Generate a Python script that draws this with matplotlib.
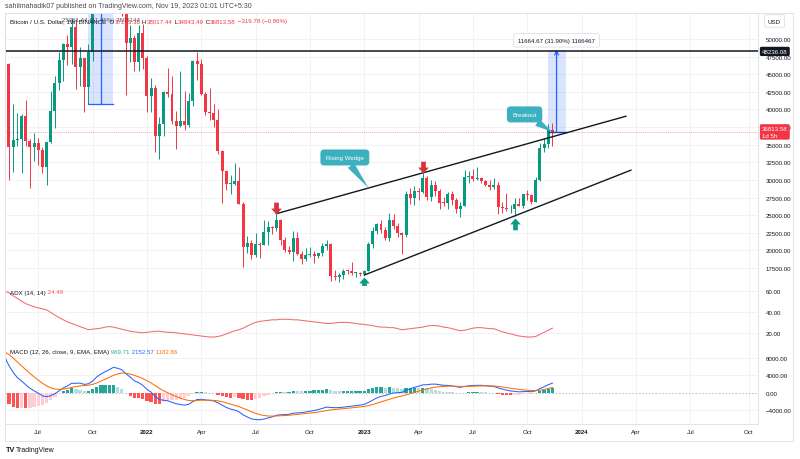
import numpy as np
import pandas as pd
import matplotlib
matplotlib.use("Agg")
import matplotlib.pyplot as plt
import matplotlib.dates as mdates
import matplotlib.transforms as mtransforms
from matplotlib.path import Path
from matplotlib.patches import Rectangle

plt.rcParams['font.family'] = ['Liberation Sans', 'DejaVu Sans']

# ---------------- data (weekly BTC/USDT, Binance) ----------------
first_week = "2021-05-10"

opens = [58230, 46430, 34700, 35678, 35796, 39097, 35514, 34700, 35288, 34240,
         31779, 35399, 39845, 43800, 47081, 49255, 48800, 51770, 46060, 47260,
         43170, 48200, 54660, 61530, 60850, 61300, 63270, 65500, 58620, 57270,
         49400, 50100, 46700, 50800, 47300, 41860, 43080, 36275, 37920, 42410,
         42200, 38400, 37700, 38420, 37780, 41260, 46830, 46400, 42150, 39700,
         39450, 38470, 34060, 31300, 29430, 29450, 29900, 26570, 20550, 21030,
         19300, 20850, 20790, 22580, 23300, 23170, 24300, 21520, 20050, 19830,
         21830, 19420, 18800, 19310, 19420, 19260, 19570, 20630, 20900, 16330,
         16280, 16460, 17100, 17090, 16780, 16840, 16610, 17120, 20880, 22700,
         23740, 22930, 21780, 24280, 23490, 22430, 22130, 28000, 27480, 28450,
         28330, 30300, 27600, 29230, 28430, 26780, 26750, 28070, 27100, 25900,
         26340, 30470, 30590, 30170, 30230, 29900, 29300, 29030, 29300, 26100,
         26000, 25830, 25830, 26530, 26260, 27980, 27930, 26850, 29980, 34520,
         35040, 37133.36]

highs = [59600, 46643, 40841, 39476, 39380, 41330, 35750, 36600, 35967, 34700,
         35398, 42599, 44700, 48144, 49500, 50500, 52920, 52780, 48843, 47350,
         49228, 56561, 62933, 67000, 63710, 64270, 69000, 66340, 59500, 59113,
         51936, 50500, 51950, 52088, 47570, 44500, 43505, 38920, 42656, 45821,
         44751, 39844, 45400, 42594, 42325, 47000, 48189, 47200, 42414, 42976,
         40795, 40023, 34240, 31328, 30670, 32400, 31765, 26880, 22000, 21540,
         22500, 21200, 24280, 24200, 23500, 25211, 24450, 21900, 20580, 22800,
         22680, 19956, 20385, 20475, 19950, 19700, 21085, 21480, 21100, 17190,
         16812, 17400, 17425, 18387, 16960, 16950, 17176, 21258, 23370, 23820,
         24250, 23360, 25250, 25135, 23880, 22600, 28390, 28870, 29190, 28800,
         31000, 30490, 30036, 29820, 28670, 27640, 28260, 28450, 27400, 26800,
         31430, 31280, 31500, 31800, 30440, 29990, 30050, 30250, 29690, 26840,
         28150, 26410, 27490, 27480, 28050, 28600, 27950, 30400, 35280, 35980,
         37980, 38017.44]

lows = [43825, 30000, 31111, 34833, 31000, 34803, 28805, 32700, 32077, 31020,
        29278, 35205, 37332, 42800, 43998, 46370, 46512, 42843, 43370, 39600,
        40750, 46900, 54000, 59510, 57820, 59405, 62333, 55600, 53256, 42000,
        46750, 45456, 45500, 45678, 39650, 39600, 34008, 32917, 36250, 41800,
        38000, 34322, 37450, 37155, 37578, 40467, 44200, 42107, 39200, 38536,
        37578, 33713, 26700, 28630, 28019, 29300, 26560, 17622, 19600, 18780,
        19000, 18910, 20750, 20700, 22380, 22700, 20760, 19800, 19520, 18540,
        19320, 18125, 18470, 19080, 18190, 18900, 19240, 20050, 15588, 15815,
        15480, 16000, 16680, 16527, 16256, 16333, 16500, 17085, 20400, 22300,
        22500, 21450, 21350, 23100, 21970, 19550, 21880, 26600, 26500, 27200,
        28170, 27140, 26940, 27680, 25811, 26350, 25870, 26500, 25350, 24800,
        26260, 29500, 29850, 29950, 29500, 29100, 28580, 28700, 25170, 25360,
        25660, 25330, 24900, 26300, 26000, 27200, 26540, 26830, 29880, 33920,
        34530, 34843.49]

closes = [46430, 34700, 35678, 35796, 39097, 35514, 34700, 35288, 34240, 31779,
          35399, 39845, 43800, 47081, 49255, 48800, 51770, 46060, 47260, 43170,
          48200, 54660, 61530, 60850, 61300, 63270, 65500, 58620, 57270, 49400,
          50100, 46700, 50800, 47300, 41860, 43080, 36275, 37920, 42410, 42200,
          38400, 37700, 38420, 37780, 41260, 46830, 46400, 42150, 39700, 39450,
          38470, 34060, 31300, 29430, 29450, 29900, 26570, 20550, 21030, 19300,
          20850, 20790, 22580, 23300, 23170, 24300, 21520, 20050, 19830, 21830,
          19420, 18800, 19310, 19420, 19260, 19570, 20630, 20900, 16330, 16280,
          16460, 17100, 17090, 16780, 16840, 16610, 17120, 20880, 22700, 23740,
          22930, 21780, 24280, 23490, 22430, 22130, 28000, 27480, 28450, 28330,
          30300, 27600, 29230, 28430, 26780, 26750, 28070, 27100, 25900, 26340,
          30470, 30590, 30170, 30230, 29900, 29300, 29030, 29300, 26100, 26000,
          25830, 25830, 26530, 26260, 27980, 27930, 26850, 29980, 34520, 35040,
          37133.36, 36813.58]

# weekly closes Jan 2020 - May 2021, only used to warm up the MACD EMAs
warmup_closes = [8100, 8700, 8600, 9350, 10150, 9900, 9700, 8530, 8030, 5360,
                 5830, 5880, 6780, 6900, 7130, 7700, 8900, 8750, 9680, 8720,
                 9450, 9680, 9330, 9290, 9000, 9070, 9240, 9160, 9920, 11800,
                 11680, 11900, 11650, 11700, 10250, 10680, 10930, 10770, 10670, 11370,
                 11510, 13030, 13780, 15480, 16030, 18680, 18180, 19140, 19270, 23800,
                 26440, 33000, 38150, 35830, 32260, 34260, 39250, 48580, 57410, 45140,
                 51200, 59020, 57350, 55820, 57060, 60000, 56150, 49070, 57800, 58230]

adx_values = [60, 58.5, 55.5, 53, 50.5, 48, 46.5, 45, 44, 43,
              42, 39.5, 37, 34.5, 32.5, 30.5, 29, 27.5, 26, 24.5,
              23, 23.5, 24, 24.5, 25.5, 26, 25.5, 24.5, 23.5, 22.5,
              21.5, 21, 20.5, 20, 20.5, 21, 21.5, 21.5, 21, 20.5,
              20.5, 20, 19.5, 19, 18.5, 18, 17.5, 17, 16.5, 16,
              16, 16.5, 17.5, 19, 20.5, 22, 23, 24.5, 26.5, 28.5,
              30, 31, 31.5, 32, 32.5, 32.5, 33, 33, 33, 32.5,
              32.5, 32, 31.5, 31, 30.5, 30, 29.5, 29, 29, 29.5,
              30, 30, 30, 29.5, 29, 28.5, 28, 27.5, 27, 26,
              25.5, 25.5, 25, 25, 24, 23, 23.5, 24, 24.5, 25,
              25.5, 26.5, 27, 27, 26.5, 25.5, 25, 24, 23, 22,
              22.5, 23.5, 24.5, 25, 25, 24.5, 24, 24, 22.5, 21,
              20, 19, 18, 17, 16.5, 16, 16, 16.5, 18.5, 20.5,
              22.5, 24.49]

x_tick_labels = ["Jul", "Oct", "2022", "Apr", "Jul", "Oct", "2023",
                 "Apr", "Jul", "Oct", "2024", "Apr", "Jul", "Oct"]
price_ticks = [17500, 20000, 22500, 25000, 27500, 30000, 32500, 35000,
               37500, 40000, 42500, 45000, 47500, 50000]
adx_ticks = [20, 40, 60]
macd_ticks = [-4000, 0, 4000, 8000]

resistance_level = 48236.08
measure_left_base = 40780
measure_left_range = 25061.44
measure_right_range = 11664.67

# ---------------- derived ----------------
n = len(closes)
dates = pd.date_range(first_week, periods=n, freq="7D")
xd = mdates.date2num(dates)
o = np.array(opens, float); h = np.array(highs, float)
l = np.array(lows, float); c = np.array(closes, float)


def wk(k):
    return xd[0] + 7.0 * k


def ema(x, span):
    a = 2.0 / (span + 1)
    out = np.empty_like(x)
    out[0] = x[0]
    for i in range(1, len(x)):
        out[i] = a * x[i] + (1 - a) * out[i - 1]
    return out


allc = np.array(warmup_closes + closes, float)
macd_full = ema(allc, 12) - ema(allc, 26)
sig_full = ema(macd_full, 9)
hist_full = macd_full - sig_full
macd = macd_full[-n:]
sig = sig_full[-n:]
hist = hist_full[-n:]
hist_prev = hist_full[-n - 1:-1]
hcol = []
for hv, hp in zip(hist, hist_prev):
    if hv >= 0:
        hcol.append('#26A69A' if hv > hp else '#B2DFDB')
    else:
        hcol.append('#FFCDD2' if hv > hp else '#FF5252')

# ---------------- figure ----------------
W, H = 800, 460
fig = plt.figure(figsize=(8, 4.6), dpi=100)
fig.patch.set_facecolor('white')


def rect(x0, y0, x1, y1):
    return [x0 / W, 1 - y1 / H, (x1 - x0) / W, (y1 - y0) / H]


ax_p = fig.add_axes(rect(5, 14, 758, 287))
ax_a = fig.add_axes(rect(5, 287, 758, 342), sharex=ax_p)
ax_m = fig.add_axes(rect(5, 342, 758, 425), sharex=ax_p)

px_per_day = 4.18 / 7.0
x_left = xd[0] + (5 - 4.8) / px_per_day
x_right = xd[0] + (758 - 4.8) / px_per_day

UP, DN = '#089981', '#F23645'
GRID = '#F0F2F5'
SEP = '#E0E3EB'
TXT = '#131722'
FS = 4.4

future = pd.date_range(first_week, "2024-12-31", freq="7D")
tick_dates = [d for p, d in zip(future[:-1], future[1:])
              if d.month != p.month and d.month in (1, 4, 7, 10)]
tick_x = mdates.date2num(pd.DatetimeIndex(tick_dates))

for ax in (ax_p, ax_a, ax_m):
    ax.set_xlim(x_left, x_right)
    ax.set_facecolor('white')
    for t in tick_x:
        ax.axvline(t, color=GRID, lw=0.7, zorder=0)
    for s in ('top', 'left'):
        ax.spines[s].set_visible(False)
    for s in ('right', 'bottom'):
        ax.spines[s].set_color(SEP)
        ax.spines[s].set_linewidth(0.7)
    ax.yaxis.tick_right()
    ax.tick_params(axis='y', length=0, pad=5.5, labelsize=FS, labelcolor=TXT)
    ax.tick_params(axis='x', length=0)
ax_p.tick_params(axis='x', labelbottom=False)
ax_a.tick_params(axis='x', labelbottom=False)

# ---- price pane ----
ax_p.set_ylim(14948, 53687)
ax_p.set_yticks(price_ticks)
ax_p.set_yticklabels([f"{v:.2f}" for v in price_ticks])
for v in price_ticks:
    ax_p.axhline(v, color=GRID, lw=0.7, zorder=0)

# measurement boxes (drawn behind candles)
ax_p.add_patch(Rectangle((wk(20), measure_left_base), 7 * 6, measure_left_range,
                         fc='#2962FF', alpha=0.17, ec='none', zorder=1))
ax_p.plot([wk(20), wk(26)], [measure_left_base] * 2, color='#2962FF', lw=0.9, zorder=1.5)
ax_p.plot([wk(23), wk(23)], [measure_left_base, measure_left_base + measure_left_range],
          color='#2962FF', lw=0.9, zorder=1.5)
rb = c[-1]
ax_p.add_patch(Rectangle((wk(n - 2), rb), 7 * 4.3, measure_right_range,
                         fc='#2962FF', alpha=0.17, ec='none', zorder=1))
ax_p.plot([wk(n - 2), wk(n - 2 + 4.3)], [rb] * 2, color='#1E3FA0', lw=1.0, zorder=4)
ax_p.annotate('', xy=(wk(n), rb + measure_right_range), xytext=(wk(n), rb),
              arrowprops=dict(arrowstyle='->', color='#2962FF', lw=0.9,
                              mutation_scale=7, shrinkA=0, shrinkB=0), zorder=4)

# candles
cols = [UP if cc >= oo else DN for oo, cc in zip(o, c)]
ax_p.vlines(xd, l, h, colors=cols, lw=0.7, zorder=2.5)
body_h = np.maximum(np.abs(c - o), 110)
ax_p.bar(xd, body_h, bottom=np.minimum(o, c), width=5.0, color=cols, lw=0, zorder=3)

# horizontal lines
ax_p.axhline(resistance_level, color=TXT, lw=1.1, zorder=4)
ax_p.axhline(c[-1], color=DN, lw=0.5, ls=(0, (1.5, 1.5)), alpha=0.6, zorder=2)

# wedge trendlines
k1, k2 = 65, 100
slope_u = (h[k2] - h[k1]) / (k2 - k1)
ku_end = 148.6
ax_p.plot([wk(k1), wk(ku_end)], [h[k1], h[k1] + slope_u * (ku_end - k1)],
          color=TXT, lw=1.0, zorder=5)
k3, k4 = 86, 122
slope_l = (l[k4] - l[k3]) / (k4 - k3)
kl_end = 149.8
ax_p.plot([wk(k3), wk(kl_end)], [l[k3], l[k3] + slope_l * (kl_end - k3)],
          color=TXT, lw=1.0, zorder=5)

# arrows
down_arrow = Path([(0, 0), (-0.45, 0.5), (-0.2, 0.5), (-0.2, 1.0), (0.2, 1.0),
                   (0.2, 0.5), (0.45, 0.5), (0, 0)])
up_arrow = Path([(0, 0), (-0.45, -0.5), (-0.2, -0.5), (-0.2, -1.0), (0.2, -1.0),
                 (0.2, -0.5), (0.45, -0.5), (0, 0)])
for k in (k1, k2):
    ax_p.plot(xd[k], h[k], marker=down_arrow, markersize=17, color='#D8323C',
              mew=0, ls='none', zorder=6, clip_on=False)
for k in (k3, k4):
    ax_p.plot(xd[k], l[k] - 250, marker=up_arrow, markersize=17, color='#0E9A84',
              mew=0, ls='none', zorder=6, clip_on=False)

# callouts
TEAL = '#3DB0C0'
kw = 87
ax_p.annotate("Rising Wedge", xy=(wk(kw), h[k1] + slope_u * (kw - k1)),
              xytext=(-17, 22), textcoords='offset points', ha='center', va='center',
              color='white', fontsize=FS,
              bbox=dict(boxstyle='round,pad=0.9,rounding_size=0.6', fc=TEAL, ec='none'),
              arrowprops=dict(arrowstyle='wedge,tail_width=1.3,shrink_factor=0.5',
                              fc=TEAL, ec='none', shrinkA=0, shrinkB=0), zorder=7)
ax_p.annotate("Breakout", xy=(xd[-1], c[-1]),
              xytext=(-20, 12.6), textcoords='offset points', ha='center', va='center',
              color='white', fontsize=FS,
              bbox=dict(boxstyle='round,pad=0.9,rounding_size=0.6', fc=TEAL, ec='none'),
              arrowprops=dict(arrowstyle='wedge,tail_width=1.3,shrink_factor=0.5',
                              fc=TEAL, ec='none', shrinkA=0, shrinkB=0), zorder=7)

# measurement labels
blend = mtransforms.blended_transform_factory(ax_p.transData, ax_p.transAxes)
ax_p.text(wk(23), 1 - 7.0 / 273, f"{measure_left_range:.2f} (61.45%) 2506144",
          transform=blend, ha='center', va='center', fontsize=FS, color='#3A3E4A',
          zorder=3.5, alpha=0.85)
ax_p.annotate(f"{measure_right_range:.2f} (31.90%) 1166467",
              xy=(wk(n), rb + measure_right_range), xytext=(0, 6.8),
              textcoords='offset points', ha='center', va='center', fontsize=FS, color=TXT,
              bbox=dict(boxstyle='round,pad=0.7,rounding_size=0.3', fc='white',
                        ec='#D6D9E0', lw=0.5), zorder=8)

# price scale labels
yax = mtransforms.blended_transform_factory(ax_p.transAxes, ax_p.transData)
ax_p.text(1.0 + 4 / 753, resistance_level, f"{resistance_level:.2f}", transform=yax,
          ha='left', va='center', fontsize=FS, color='white', zorder=10, clip_on=False,
          bbox=dict(boxstyle='round,pad=0.35,rounding_size=0.25', fc='#131722', ec='none'))
ax_p.text(1.0 + 4 / 753, c[-1], f"{c[-1]:.2f}\n1d 5h", transform=yax,
          ha='left', va='center', fontsize=FS, color='white', zorder=10, clip_on=False,
          linespacing=1.3,
          bbox=dict(boxstyle='round,pad=0.35,rounding_size=0.25', fc=DN, ec='none'))

# ---- ADX pane ----
ax_a.set_ylim(12.2, 64.9)
ax_a.set_yticks(adx_ticks)
ax_a.set_yticklabels([f"{v:.2f}" for v in adx_ticks])
for v in adx_ticks:
    ax_a.axhline(v, color=GRID, lw=0.7, zorder=0)
ax_a.plot(xd, adx_values, color='#F26B6B', lw=0.75, zorder=3)

# ---- MACD pane ----
ax_m.set_ylim(-7300, 12000)
ax_m.set_yticks(macd_ticks)
ax_m.set_yticklabels([f"{v:.2f}".replace('-', '\u2212') for v in macd_ticks])
for v in macd_ticks:
    if v != 0:
        ax_m.axhline(v, color=GRID, lw=0.7, zorder=0)
ax_m.axhline(0, color='#B2B5BE', lw=0.6, ls=(0, (2, 2)), zorder=1)
ax_m.bar(xd, hist, width=5.5, color=hcol, lw=0, zorder=2)
ax_m.plot(xd, macd, color='#2962FF', lw=0.75, zorder=3)
ax_m.plot(xd, sig, color='#FF6D00', lw=0.75, zorder=3)
ax_m.set_xticks(tick_x)
ax_m.set_xticklabels(x_tick_labels)
ax_m.tick_params(axis='x', pad=3.5, labelsize=FS, labelcolor=TXT)
for lab in ax_m.get_xticklabels():
    if lab.get_text().isdigit():
        lab.set_fontweight('bold')

# ---------------- texts ----------------
renderer = fig.canvas.get_renderer()


def chain(x_px, y_px, parts, size=FS):
    x = x_px
    for txt, col in parts:
        t = fig.text(x / W, 1 - y_px / H, txt, color=col, fontsize=size,
                     ha='left', va='center', zorder=20)
        x += t.get_window_extent(renderer=renderer).width


fig.text(5 / W, 1 - 7 / H, "sahilmahadik07 published on TradingView.com, Nov 19, 2023 01:01 UTC+5:30",
         fontsize=5.0, color='#4A4A4A', ha='left', va='center')
chain(10, 22, [("Bitcoin / U.S. Dollar, 1W, BINANCE", TXT), ("  O", TXT), (f"{o[-1]:.2f}", DN),
               (" H", TXT), (f"{h[-1]:.2f}", DN), (" L", TXT), (f"{l[-1]:.2f}", DN),
               (" C", TXT), (f"{c[-1]:.2f}", DN), (" \u2212319.78 (\u22120.86%)", DN)])
chain(10, 293, [("ADX (14, 14)", TXT), (" 24.49", '#F7525F')])
chain(10, 353, [("MACD (12, 26, close, 9, EMA, EMA)", TXT), (" 969.71", '#26A69A'),
                (" 2152.57", '#2962FF'), (" 1182.86", '#FF6D00')])

# USD box
fig.text(768 / W, 1 - 22 / H, "USD", fontsize=FS, color=TXT, ha='left', va='center',
         bbox=dict(boxstyle='round,pad=0.6,rounding_size=0.3', fc='white', ec='#D6D9E0', lw=0.5))

# frame lines
fig.add_artist(plt.Line2D([5 / W, 793 / W], [1 - 14 / H] * 2, color=SEP, lw=0.7))
fig.add_artist(plt.Line2D([5 / W, 793 / W], [1 - 442 / H] * 2, color=SEP, lw=0.7))
fig.add_artist(plt.Line2D([793 / W] * 2, [1 - 14 / H, 1 - 442 / H], color=SEP, lw=0.7))
fig.add_artist(plt.Line2D([5 / W] * 2, [1 - 14 / H, 1 - 442 / H], color=SEP, lw=0.7))

# footer logo
fig.text(6 / W, 1 - 451 / H, "TV", fontsize=5.2, fontweight='bold', color=TXT, ha='left', va='center')
fig.text(16 / W, 1 - 451 / H, "TradingView", fontsize=5.0, color=TXT, ha='left', va='center')

fig.savefig("out.png", dpi=100, facecolor='white')
